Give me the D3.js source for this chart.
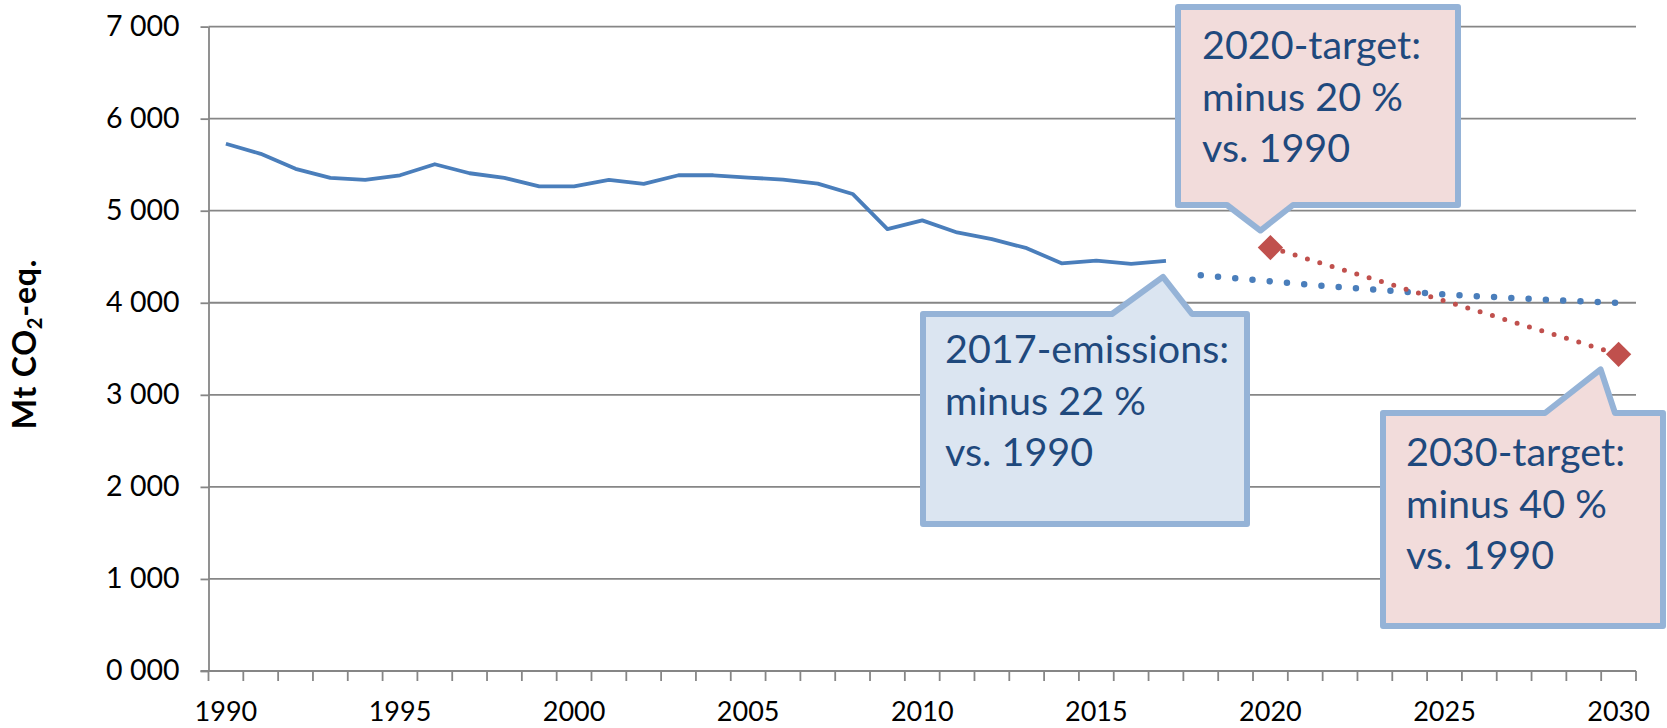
<!DOCTYPE html>
<html>
<head>
<meta charset="utf-8">
<script src="https://cdn.jsdelivr.net/npm/d3@7"></script>
<style>
  body { margin: 0; background: #fff; }
  text { font-family: Lato, "Open Sans", sans-serif; }
</style>
</head>
<body>
<script>
// Data
// ================================
var years = [1990, 1991, 1992, 1993, 1994, 1995, 1996, 1997, 1998, 1999,
  2000, 2001, 2002, 2003, 2004, 2005, 2006, 2007, 2008, 2009,
  2010, 2011, 2012, 2013, 2014, 2015, 2016, 2017, 2018, 2019,
  2020, 2021, 2022, 2023, 2024, 2025, 2026, 2027, 2028, 2029, 2030];

var emissionYears = [1990, 1991, 1992, 1993, 1994, 1995, 1996, 1997, 1998, 1999,
  2000, 2001, 2002, 2003, 2004, 2005, 2006, 2007, 2008, 2009,
  2010, 2011, 2012, 2013, 2014, 2015, 2016, 2017];
var emissions = [5727, 5618, 5455, 5356, 5335, 5385, 5505, 5407, 5356, 5265,
  5265, 5335, 5291, 5385, 5385, 5360, 5338, 5295, 5182, 4800,
  4895, 4764, 4691, 4593, 4429, 4458, 4422, 4455];

var projectionYears = [2018, 2019, 2020, 2021, 2022, 2023, 2024, 2025, 2026, 2027, 2028, 2029, 2030];
var projection = [4300, 4265, 4232, 4200, 4170, 4142, 4116, 4092, 4070, 4050, 4032, 4015, 4000];

var targetYears = [2020, 2030];
var targets = [4600, 3440];

var yTicks = [0, 1000, 2000, 3000, 4000, 5000, 6000, 7000];
var xLabels = [1990, 1995, 2000, 2005, 2010, 2015, 2020, 2025, 2030];

var callouts = [
  { lines: ["2017-emissions:", "minus 22 %", "vs. 1990"], year: 2017, value: 4455, fill: "#dbe5f1" },
  { lines: ["2020-target:", "minus 20 %", "vs. 1990"], year: 2020, value: 4600, fill: "#f2dcdb" },
  { lines: ["2030-target:", "minus 40 %", "vs. 1990"], year: 2030, value: 3440, fill: "#f2dcdb" }
];

// Set up the chart
// ================================
var svgWidth = 1667;
var svgHeight = 728;
var plot = { left: 208.5, right: 1636, top: 26.6, bottom: 671 };

var svg = d3.select("body").append("svg")
  .attr("width", svgWidth)
  .attr("height", svgHeight);

var x = d3.scaleBand().domain(years).range([plot.left, plot.right]).padding(0);
var xc = function(d) { return x(d) + x.bandwidth() / 2; };
var y = d3.scaleLinear().domain([0, 7000]).range([plot.bottom, plot.top]);

// gridlines
svg.append("g")
  .selectAll("line")
  .data(yTicks.slice(1))
  .enter()
  .append("line")
  .attr("x1", plot.left)
  .attr("x2", plot.right)
  .attr("y1", d => y(d))
  .attr("y2", d => y(d))
  .attr("stroke", "#868686")
  .attr("stroke-width", 1.8);

// y axis
var leftAxis = d3.axisLeft(y)
  .tickValues(yTicks)
  .tickSizeInner(8)
  .tickSizeOuter(0)
  .tickPadding(21)
  .tickFormat(d => (d / 1000) + " 000");

var yAxis = svg.append("g")
  .attr("transform", `translate(${plot.left},0)`)
  .call(leftAxis);
yAxis.selectAll("line, path").attr("stroke", "#868686").attr("stroke-width", 1.8);
yAxis.selectAll("text")
  .attr("font-size", "28.5px")
  .attr("fill", "#000")
  .attr("dy", "0.3em")
  .style("font-family", "Lato");

// x axis: ticks at category boundaries, labels every 5 years
var xAxis = svg.append("g");
xAxis.append("line")
  .attr("x1", plot.left - 8)
  .attr("x2", plot.right)
  .attr("y1", y(0))
  .attr("y2", y(0))
  .attr("stroke", "#868686")
  .attr("stroke-width", 1.8);

xAxis.selectAll("line.tick")
  .data(years.map(d => x(d)).concat([plot.right]))
  .enter()
  .append("line")
  .attr("class", "tick")
  .attr("x1", d => d)
  .attr("x2", d => d)
  .attr("y1", y(0))
  .attr("y2", y(0) + 10)
  .attr("stroke", "#868686")
  .attr("stroke-width", 1.8);

xAxis.selectAll("text")
  .data(xLabels)
  .enter()
  .append("text")
  .attr("x", d => xc(d))
  .attr("y", 721)
  .attr("text-anchor", "middle")
  .attr("font-size", "27px")
  .attr("fill", "#000")
  .text(d => d);

// y axis title
var yTitle = svg.append("text")
  .attr("transform", "translate(36,344) rotate(-90)")
  .attr("text-anchor", "middle")
  .attr("font-size", "32px")
  .attr("font-weight", "bold")
  .attr("letter-spacing", "0.8px")
  .attr("fill", "#000");
yTitle.append("tspan").text("Mt CO");
yTitle.append("tspan").attr("font-size", "20px").attr("dy", "6").text("2");
yTitle.append("tspan").attr("dy", "-6").text("-eq.");

// lines
var line = d3.line()
  .x(d => xc(d[0]))
  .y(d => y(d[1]));

svg.append("path")
  .datum(d3.zip(emissionYears, emissions))
  .attr("d", line)
  .attr("fill", "none")
  .attr("stroke", "#4a7ebb")
  .attr("stroke-width", 3.8)
  .attr("stroke-linejoin", "round");

svg.append("path")
  .datum(d3.zip(projectionYears, projection))
  .attr("d", line)
  .attr("fill", "none")
  .attr("stroke", "#4a7ebb")
  .attr("stroke-width", 6.5)
  .attr("stroke-linecap", "round")
  .attr("stroke-dasharray", "0 17.3");

svg.append("path")
  .datum(d3.zip(targetYears, targets))
  .attr("d", line)
  .attr("fill", "none")
  .attr("stroke", "#c0504d")
  .attr("stroke-width", 5)
  .attr("stroke-linecap", "round")
  .attr("stroke-dasharray", "0 12.9")
  .attr("stroke-dashoffset", -12.9);

svg.append("g")
  .selectAll("path")
  .data(d3.zip(targetYears, targets))
  .enter()
  .append("path")
  .attr("d", d3.symbol().type(d3.symbolSquare).size(320))
  .attr("transform", d => `translate(${xc(d[0])},${y(d[1])}) rotate(45)`)
  .attr("fill", "#c0504d");

// callouts (box layout in pixels, tip anchored to data point)
var boxes = [
  { x0: 923, x1: 1247, y0: 314, y1: 524, b0: 1112, b1: 1192, dx: -3, dy: 16, side: "top", tx: 945, ty: 363 },
  { x0: 1178, x1: 1458, y0: 7, y1: 205, b0: 1227, b1: 1293, dx: -10, dy: -17, side: "bottom", tx: 1202, ty: 59 },
  { x0: 1383, x1: 1663, y0: 413, y1: 626, b0: 1545, b1: 1615, dx: -18, dy: 15, side: "top", tx: 1406, ty: 466 }
];

callouts.forEach(function(c, i) {
  var b = boxes[i];
  var tipX = xc(c.year) + b.dx;
  var tipY = y(c.value) + b.dy;
  var p = d3.path();
  if (b.side === "top") {
    p.moveTo(b.x0, b.y0);
    p.lineTo(b.b0, b.y0);
    p.lineTo(tipX, tipY);
    p.lineTo(b.b1, b.y0);
    p.lineTo(b.x1, b.y0);
    p.lineTo(b.x1, b.y1);
    p.lineTo(b.x0, b.y1);
  } else {
    p.moveTo(b.x0, b.y0);
    p.lineTo(b.x1, b.y0);
    p.lineTo(b.x1, b.y1);
    p.lineTo(b.b1, b.y1);
    p.lineTo(tipX, tipY);
    p.lineTo(b.b0, b.y1);
    p.lineTo(b.x0, b.y1);
  }
  p.closePath();

  var g = svg.append("g");
  g.append("path")
    .attr("d", p.toString())
    .attr("fill", c.fill)
    .attr("stroke", "#95b3d7")
    .attr("stroke-width", 6)
    .attr("stroke-linejoin", "round");

  g.selectAll("text")
    .data(c.lines)
    .enter()
    .append("text")
    .attr("x", b.tx)
    .attr("y", (d, j) => b.ty + j * 51.5)
    .attr("font-size", "39.5px")
    .attr("fill", "#1f497d")
    .text(d => d);
});
</script>
</body>
</html>
